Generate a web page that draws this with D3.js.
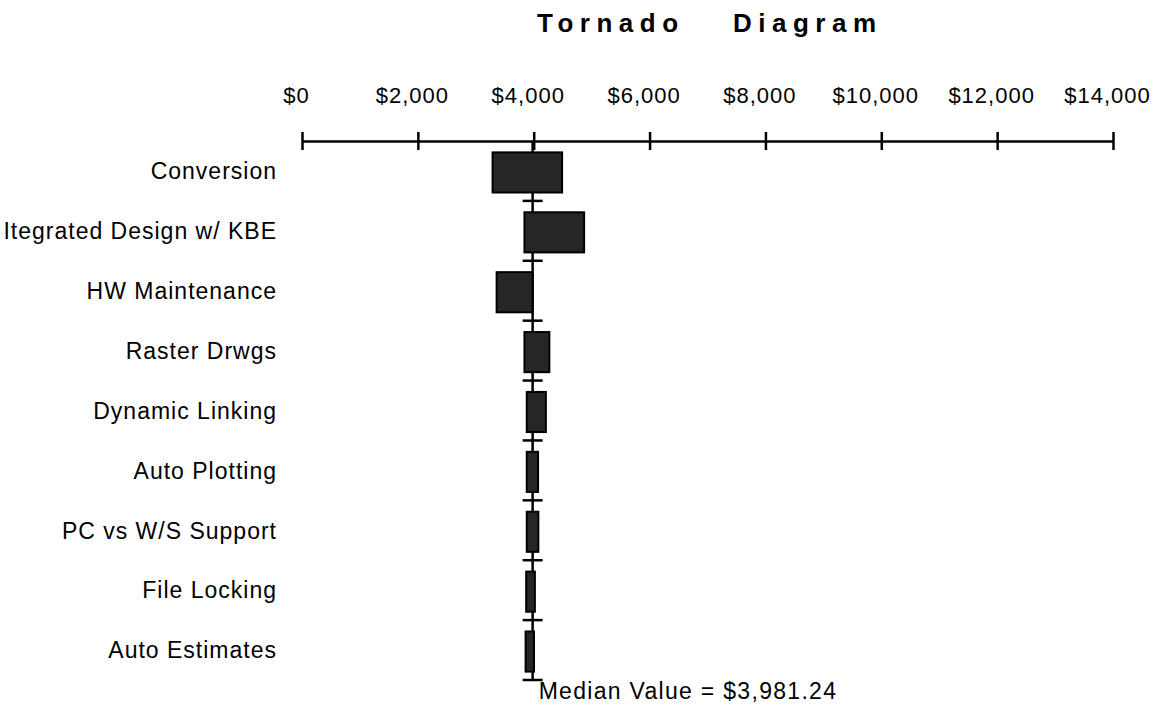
<!DOCTYPE html>
<html lang="en">
<head>
  <meta charset="UTF-8">
  <style type="text/css">
    body {margin:0; background:#fff;}
    svg {font-family: "Liberation Sans", Arial, Helvetica, sans-serif;}
    .tick-label {font-size: 22px; letter-spacing: 1px;}
    .row-label {font-size: 23px; letter-spacing: 1px;}
    .title {font-size: 26px; font-weight: bold; letter-spacing: 6.5px;}
    .median-label {font-size: 23px; letter-spacing: 1.3px;}
  </style>
  <title>Tornado Diagram</title>
</head>
<body>
  <svg id="chart" width="1159" height="715"></svg>

  <script src="https://d3js.org/d3.v7.min.js"></script>
  <script type="text/javascript">
    // data
    var categories = ["Conversion", "Itegrated Design w/ KBE", "HW Maintenance", "Raster Drwgs",
                      "Dynamic Linking", "Auto Plotting", "PC vs W/S Support", "File Locking", "Auto Estimates"];
    var lowValues  = [3290, 3840, 3360, 3840, 3880, 3880, 3880, 3870, 3860];
    var highValues = [4490, 4870, 3981, 4270, 4210, 4075, 4080, 4020, 4005];
    var tickValues = [0, 2000, 4000, 6000, 8000, 10000, 12000, 14000];
    var medianValue = 3981.24;

    var svg = d3.select("#chart");

    var x = d3.scaleLinear().domain([0, 14000]).range([302, 1113]);
    var y = d3.scaleBand().domain(categories).range([141, 680]).padding(0);
    var step = y.step();
    var fmt = d3.format(",");

    // title (two words, wide gap)
    var title = svg.append("text")
      .attr("class", "title")
      .attr("y", 32);
    title.append("tspan").attr("x", 537).text("Tornado");
    title.append("tspan").attr("x", 733).text("Diagram");

    // top axis
    var axis = svg.append("g")
      .attr("transform", "translate(0,141)")
      .call(d3.axisTop(x).tickValues(tickValues).tickSize(0).tickSizeOuter(0).tickFormat(d => "$" + fmt(d)));

    axis.select(".domain").attr("stroke", "#000").attr("stroke-width", 2.5);
    axis.selectAll(".tick line").remove();
    axis.selectAll(".tick").append("line")
      .attr("y1", -9).attr("y2", 9)
      .attr("stroke", "#000").attr("stroke-width", 2.5);
    axis.selectAll(".tick text")
      .attr("class", "tick-label")
      .attr("x", -6)
      .attr("y", -38)
      .attr("dy", null)
      .attr("fill", "#000");

    // median spine
    svg.append("line")
      .attr("x1", x(medianValue)).attr("x2", x(medianValue))
      .attr("y1", 141).attr("y2", 680)
      .attr("stroke", "#000").attr("stroke-width", 2.5);

    // cross ticks at row boundaries
    svg.selectAll(".cross")
      .data(categories)
      .enter().append("line")
      .attr("class", "cross")
      .attr("x1", x(medianValue) - 10).attr("x2", x(medianValue) + 10)
      .attr("y1", d => y(d) + step).attr("y2", d => y(d) + step)
      .attr("stroke", "#000").attr("stroke-width", 2.5);

    // bars
    var inset = step * 0.19;
    svg.selectAll(".bar")
      .data(categories)
      .enter().append("rect")
      .attr("class", "bar")
      .attr("x", (d, i) => x(lowValues[i]))
      .attr("y", d => y(d) + inset)
      .attr("width", (d, i) => x(highValues[i]) - x(lowValues[i]))
      .attr("height", step * 0.67)
      .attr("fill", "#262626")
      .attr("stroke", "#000")
      .attr("stroke-width", 2);

    // row labels
    svg.selectAll(".row-label")
      .data(categories)
      .enter().append("text")
      .attr("class", "row-label")
      .attr("x", 277)
      .attr("y", d => y(d) + step / 2)
      .attr("dy", "0.36em")
      .attr("text-anchor", "end")
      .text(d => d);

    // median caption
    svg.append("text")
      .attr("class", "median-label")
      .attr("x", x(medianValue) + 6)
      .attr("y", 699)
      .text("Median Value = $" + d3.format(",.2f")(medianValue));
  </script>
</body>
</html>
